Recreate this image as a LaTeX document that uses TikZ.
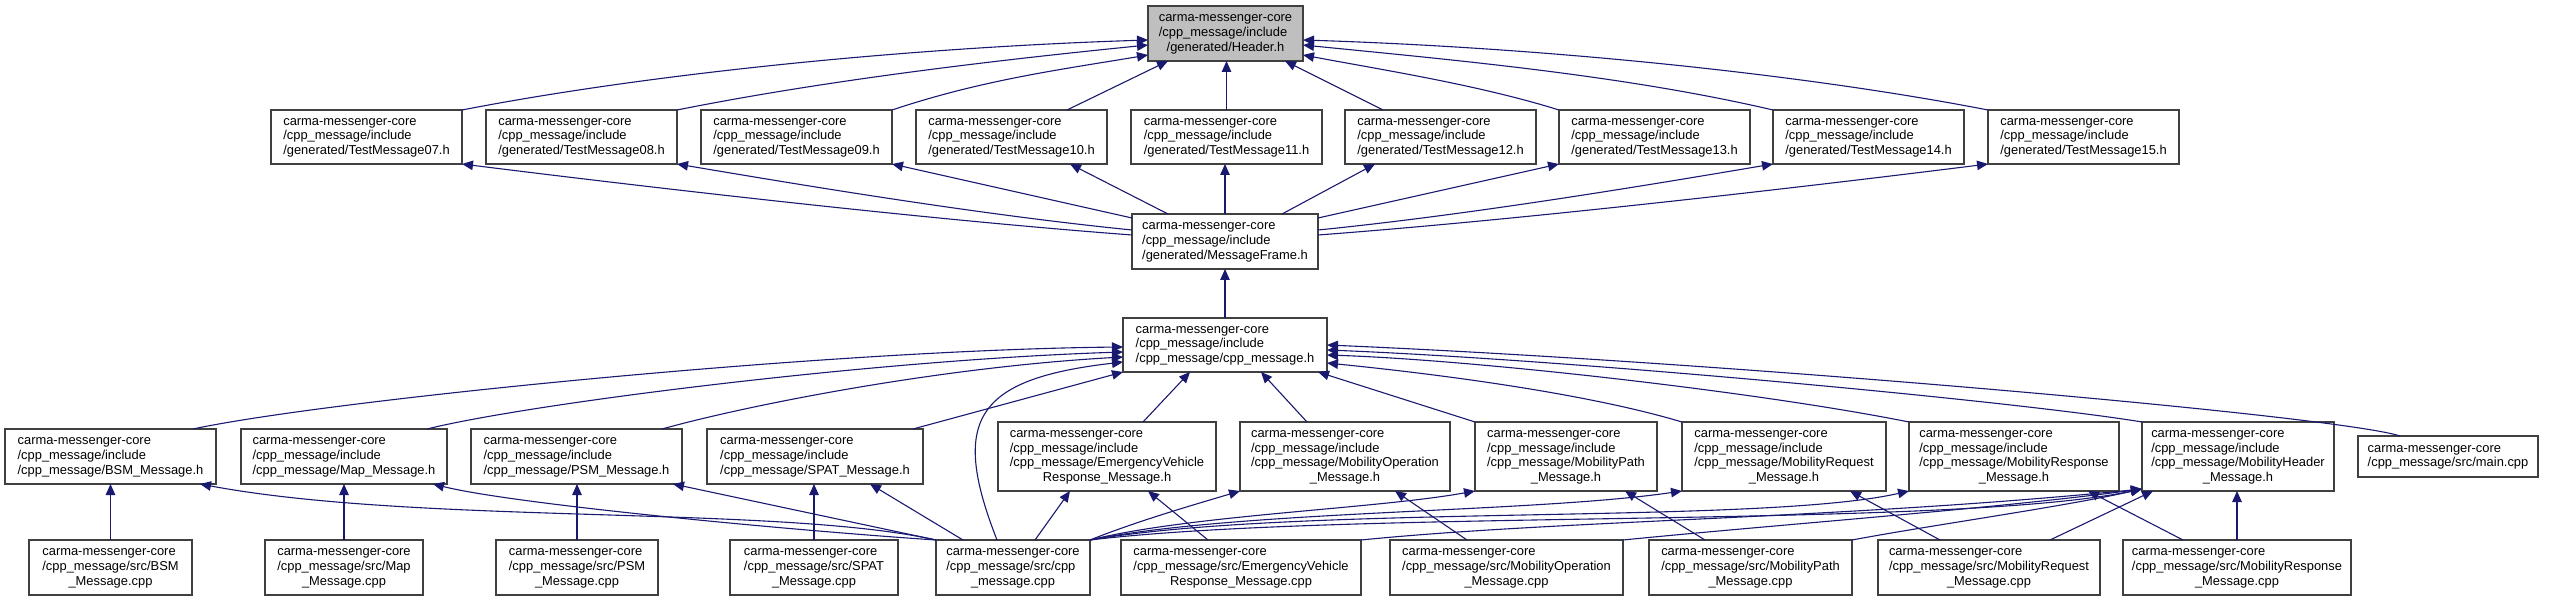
\documentclass[tikz,border=0pt]{standalone}
\usepackage{fontspec}
\setmainfont{Liberation Sans}
\usetikzlibrary{arrows.meta}
\definecolor{edgecol}{HTML}{191970}
\definecolor{rootfill}{HTML}{BFBFBF}
\definecolor{boxline}{HTML}{404040}
\newcommand\cmcore{carma-messenger-core}
\newcommand\nlines[2]{\begin{tabular}{@{}l@{}}#1\\\multicolumn{1}{@{}c@{}}{#2}\end{tabular}}
\begin{document}
\begin{tikzpicture}[x=1pt,y=-1pt,
  box/.style={draw=boxline, line width=1.1pt, rectangle, inner sep=0pt, outer sep=0pt,
    font=\fontsize{12.9}{14.6}\selectfont},
  edge/.style={draw=edgecol, line width=1.1pt, -{Triangle[length=11pt,width=9.5pt]}},
]
\useasboundingbox (0,0) rectangle (2559,601);
% row 1
\node[box, fill=rootfill, minimum width=155pt, minimum height=55pt] (hdr) at (1225.5,33.5) {\nlines{\cmcore\\/cpp\_message/include}{/generated/Header.h}};
% row 2
\tikzset{tm/.style={box, minimum width=191pt, minimum height=54pt}}
\node[tm] (t07) at (366.5,137) {\nlines{\cmcore\\/cpp\_message/include}{/generated/TestMessage07.h}};
\node[tm] (t08) at (581.5,137) {\nlines{\cmcore\\/cpp\_message/include}{/generated/TestMessage08.h}};
\node[tm] (t09) at (796.5,137) {\nlines{\cmcore\\/cpp\_message/include}{/generated/TestMessage09.h}};
\node[tm] (t10) at (1011.5,137) {\nlines{\cmcore\\/cpp\_message/include}{/generated/TestMessage10.h}};
\node[tm] (t11) at (1226.5,137) {\nlines{\cmcore\\/cpp\_message/include}{/generated/TestMessage11.h}};
\node[tm] (t12) at (1440.5,137) {\nlines{\cmcore\\/cpp\_message/include}{/generated/TestMessage12.h}};
\node[tm] (t13) at (1654.5,137) {\nlines{\cmcore\\/cpp\_message/include}{/generated/TestMessage13.h}};
\node[tm] (t14) at (1868.5,137) {\nlines{\cmcore\\/cpp\_message/include}{/generated/TestMessage14.h}};
\node[tm] (t15) at (2083.5,137) {\nlines{\cmcore\\/cpp\_message/include}{/generated/TestMessage15.h}};
% row 3, 4
\node[box, minimum width=186pt, minimum height=55pt] (mf) at (1225,241.5) {\nlines{\cmcore\\/cpp\_message/include}{/generated/MessageFrame.h}};
\node[box, minimum width=204pt, minimum height=54pt] (cpph) at (1225,345) {\nlines{\cmcore\\/cpp\_message/include}{/cpp\_message/cpp\_message.h}};
% row 5
\node[box, minimum width=211pt, minimum height=55pt] (bsmh) at (110.5,456.5) {\nlines{\cmcore\\/cpp\_message/include}{/cpp\_message/BSM\_Message.h}};
\node[box, minimum width=206pt, minimum height=55pt] (maph) at (344,456.5) {\nlines{\cmcore\\/cpp\_message/include}{/cpp\_message/Map\_Message.h}};
\node[box, minimum width=211pt, minimum height=55pt] (psmh) at (576.5,456.5) {\nlines{\cmcore\\/cpp\_message/include}{/cpp\_message/PSM\_Message.h}};
\node[box, minimum width=216pt, minimum height=55pt] (spath) at (815,456.5) {\nlines{\cmcore\\/cpp\_message/include}{/cpp\_message/SPAT\_Message.h}};
\node[box, minimum width=218pt, minimum height=69pt] (evh) at (1107,456.5) {\nlines{\cmcore\\/cpp\_message/include\\/cpp\_message/EmergencyVehicle}{Response\_Message.h}};
\node[box, minimum width=210pt, minimum height=69pt] (moph) at (1345,456.5) {\nlines{\cmcore\\/cpp\_message/include\\/cpp\_message/MobilityOperation}{\_Message.h}};
\node[box, minimum width=182pt, minimum height=69pt] (mpah) at (1566,456.5) {\nlines{\cmcore\\/cpp\_message/include\\/cpp\_message/MobilityPath}{\_Message.h}};
\node[box, minimum width=204pt, minimum height=69pt] (mrqh) at (1784,456.5) {\nlines{\cmcore\\/cpp\_message/include\\/cpp\_message/MobilityRequest}{\_Message.h}};
\node[box, minimum width=210pt, minimum height=69pt] (mrsh) at (2014,456.5) {\nlines{\cmcore\\/cpp\_message/include\\/cpp\_message/MobilityResponse}{\_Message.h}};
\node[box, minimum width=192pt, minimum height=69pt] (mhdh) at (2238,456.5) {\nlines{\cmcore\\/cpp\_message/include\\/cpp\_message/MobilityHeader}{\_Message.h}};
\node[box, minimum width=180pt, minimum height=41pt] (mainc) at (2448,456.5) {\nlines{\cmcore}{/cpp\_message/src/main.cpp}};
% row 6
\tikzset{src/.style={box, minimum height=55pt}}
\node[src, minimum width=163pt] (bsmc) at (110.5,567.5) {\nlines{\cmcore\\/cpp\_message/src/BSM}{\_Message.cpp}};
\node[src, minimum width=158pt] (mapc) at (344,567.5) {\nlines{\cmcore\\/cpp\_message/src/Map}{\_Message.cpp}};
\node[src, minimum width=162pt] (psmc) at (577,567.5) {\nlines{\cmcore\\/cpp\_message/src/PSM}{\_Message.cpp}};
\node[src, minimum width=168pt] (spatc) at (814,567.5) {\nlines{\cmcore\\/cpp\_message/src/SPAT}{\_Message.cpp}};
\node[src, minimum width=154pt] (cppc) at (1013,567.5) {\nlines{\cmcore\\/cpp\_message/src/cpp}{\_message.cpp}};
\node[src, minimum width=240pt] (evc) at (1241,567.5) {\nlines{\cmcore\\/cpp\_message/src/EmergencyVehicle}{Response\_Message.cpp}};
\node[src, minimum width=233pt] (mopc) at (1506.5,567.5) {\nlines{\cmcore\\/cpp\_message/src/MobilityOperation}{\_Message.cpp}};
\node[src, minimum width=203pt] (mpac) at (1750.5,567.5) {\nlines{\cmcore\\/cpp\_message/src/MobilityPath}{\_Message.cpp}};
\node[src, minimum width=222pt] (mrqc) at (1989,567.5) {\nlines{\cmcore\\/cpp\_message/src/MobilityRequest}{\_Message.cpp}};
\node[src, minimum width=228pt] (mrsc) at (2237,567.5) {\nlines{\cmcore\\/cpp\_message/src/MobilityResponse}{\_Message.cpp}};

% TestMessages -> Header
\draw[edge] (t07.north east) .. controls +(180,-35) and +(-250,8) .. ([yshift=-34pt]hdr.north west);
\draw[edge] (t08.north east) .. controls +(150,-30) and +(-150,15) .. ([yshift=-39pt]hdr.north west);
\draw[edge] (t09.north east) .. controls +(90,-30) and +(-90,15) .. ([yshift=-49pt]hdr.north west);
\draw[edge] ([xshift=151pt]t10.north west) -- ([xshift=20pt]hdr.south west);
\draw[edge] (t11.north) -- (t11.north |- hdr.south);
\draw[edge] ([xshift=38pt]t12.north west) -- ([xshift=137pt]hdr.south west);
\draw[edge] (t13.north west) .. controls +(-80,-25) and +(80,15) .. ([yshift=-49pt]hdr.north east);
\draw[edge] (t14.north west) .. controls +(-150,-35) and +(150,15) .. ([yshift=-39pt]hdr.north east);
\draw[edge] (t15.north west) .. controls +(-180,-35) and +(250,8) .. ([yshift=-34pt]hdr.north east);
% MessageFrame -> TestMessages
\draw[edge] ([yshift=-21pt]mf.north west) .. controls +(-200,-15) and +(200,25) .. (t07.south east);
\draw[edge] ([yshift=-16pt]mf.north west) .. controls +(-150,-15) and +(130,22) .. (t08.south east);
\draw[edge] ([yshift=-4pt]mf.north west) -- (t09.south east);
\draw[edge] ([xshift=36pt]mf.north west) -- ([xshift=154pt]t10.south west);
\draw[edge] (mf.north) -- (mf.north |- t11.south);
\draw[edge] ([xshift=150pt]mf.north west) -- ([xshift=30pt]t12.south west);
\draw[edge] ([yshift=-4pt]mf.north east) -- (t13.south west);
\draw[edge] ([yshift=-16pt]mf.north east) .. controls +(150,-15) and +(-130,22) .. (t14.south west);
\draw[edge] ([yshift=-21pt]mf.north east) .. controls +(200,-15) and +(-200,25) .. (t15.south west);
% cpp_message.h -> MessageFrame
\draw[edge] (cpph.north) -- (mf.south);
% row 5 -> cpp_message.h
\draw[edge] ([xshift=188pt]bsmh.north west) .. controls +(130,-28) and +(-300,3) .. ([yshift=-29pt]cpph.north west);
\draw[edge] ([xshift=186pt]maph.north west) .. controls +(100,-25) and +(-250,8) .. ([yshift=-34pt]cpph.north west);
\draw[edge] ([xshift=191pt]psmh.north west) .. controls +(90,-25) and +(-180,10) .. ([yshift=-39pt]cpph.north west);
\draw[edge] ([xshift=206pt]spath.north west) -- (cpph.south west);
\draw[edge] ([xshift=61pt]cppc.north west) .. controls +(-47,-120) and +(-148,17) .. ([yshift=-44pt]cpph.north west);
\draw[edge] ([xshift=145pt]evh.north west) -- ([xshift=67pt]cpph.south west);
\draw[edge] ([xshift=67pt]moph.north west) -- ([xshift=138pt]cpph.south west);
\draw[edge] (mpah.north west) -- ([xshift=195pt]cpph.south west);
\draw[edge] (mrqh.north west) .. controls +(-100,-30) and +(100,10) .. ([yshift=-45pt]cpph.north east);
\draw[edge] (mrsh.north west) .. controls +(-150,-30) and +(150,5) .. ([yshift=-37pt]cpph.north east);
\draw[edge] (mhdh.north west) .. controls +(-120,-20) and +(250,10) .. ([yshift=-32pt]cpph.north east);
\draw[edge] ([xshift=42pt]mainc.north west) .. controls +(-60,-20) and +(400,17) .. ([yshift=-27pt]cpph.north east);
% sources -> own headers
\draw[edge] (bsmc.north) -- (bsmc.north |- bsmh.south);
\draw[edge] (mapc.north) -- (mapc.north |- maph.south);
\draw[edge] (psmc.north) -- (psmc.north |- psmh.south);
\draw[edge] (spatc.north) -- (spatc.north |- spath.south);
\draw[edge] ([xshift=87pt]evc.north west) -- ([xshift=150pt]evh.south west);
\draw[edge] ([xshift=77pt]mopc.north west) -- ([xshift=155pt]moph.south west);
\draw[edge] ([xshift=56pt]mpac.north west) -- ([xshift=150pt]mpah.south west);
\draw[edge] ([xshift=62pt]mrqc.north west) -- ([xshift=168pt]mrqh.south west);
\draw[edge] ([xshift=60pt]mrsc.north west) -- ([xshift=179pt]mrsh.south west);
% cpp_message.cpp -> headers
\draw[edge] (cppc.north west) .. controls +(-156,-35) and +(220,41) .. ([xshift=195pt]bsmh.south west);
\draw[edge] (cppc.north west) .. controls +(-150,-10) and +(80,20) .. ([xshift=192pt]maph.south west);
\draw[edge] (cppc.north west) -- ([xshift=202pt]psmh.south west);
\draw[edge] ([xshift=27pt]cppc.north west) -- ([xshift=163pt]spath.south west);
\draw[edge] ([xshift=99pt]cppc.north west) -- ([xshift=72pt]evh.south west);
\draw[edge] (cppc.north east) .. controls +(50,-20) and +(-40,12) .. (moph.south west);
\draw[edge] (cppc.north east) .. controls +(100,-25) and +(-100,18) .. (mpah.south west);
\draw[edge] (cppc.north east) .. controls +(150,-30) and +(-150,22) .. (mrqh.south west);
\draw[edge] (cppc.north east) .. controls +(210,-36) and +(-149,34) .. (mrsh.south west);
\draw[edge] (cppc.north east) .. controls +(260,-31) and +(-192,40) .. ([yshift=2pt]mhdh.south west);
% other sources -> MobilityHeader
\draw[edge] (evc.north east) .. controls +(200,-20) and +(-300,30) .. ([yshift=2pt]mhdh.south west);
\draw[edge] (mopc.north east) .. controls +(150,-15) and +(-150,20) .. ([yshift=2pt]mhdh.south west);
\draw[edge] (mpac.north east) .. controls +(80,-15) and +(-80,18) .. ([yshift=2pt]mhdh.south west);
\draw[edge] ([xshift=172pt]mrqc.north west) -- ([xshift=11pt]mhdh.south west);
\draw[edge] (mrsc.north) -- (mrsc.north |- mhdh.south);
\end{tikzpicture}
\end{document}
